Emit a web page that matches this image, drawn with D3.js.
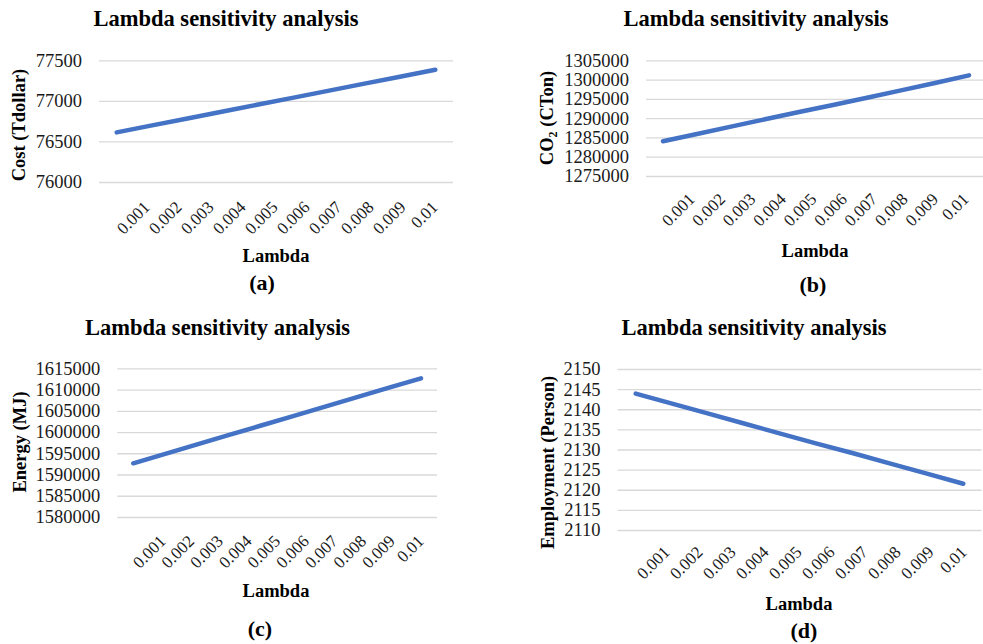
<!DOCTYPE html>
<html>
<head>
<meta charset="utf-8">
<script src="https://cdn.jsdelivr.net/npm/d3@7/dist/d3.min.js"></script>
<style>
  html, body { margin: 0; padding: 0; background: #fff; }
  svg { display: block; font-family: "Liberation Serif", "Times New Roman", serif; }
</style>
</head>
<body>
<svg id="chart" width="983" height="644"></svg>
<script>
// ---------- data ----------
const lambdas = ["0.001", "0.002", "0.003", "0.004", "0.005", "0.006", "0.007", "0.008", "0.009", "0.01"];

const cost = [76612, 76698, 76783, 76869, 76955, 77040, 77126, 77212, 77297, 77383];
const co2 = [1284000, 1285900, 1287800, 1289700, 1291600, 1293400, 1295300, 1297200, 1299100, 1301100];
const energy = [1592640, 1594860, 1597090, 1599310, 1601530, 1603760, 1605980, 1608200, 1610430, 1612650];
const employment = [2143.9, 2141.4, 2138.9, 2136.4, 2133.9, 2131.4, 2129.0, 2126.5, 2124.0, 2121.5];

const costTicks = [76000, 76500, 77000, 77500];
const co2Ticks = [1275000, 1280000, 1285000, 1290000, 1295000, 1300000, 1305000];
const energyTicks = [1580000, 1585000, 1590000, 1595000, 1600000, 1605000, 1610000, 1615000];
const employmentTicks = [2110, 2115, 2120, 2125, 2130, 2135, 2140, 2145, 2150];

const chartTitle = "Lambda sensitivity analysis";
const xTitle = "Lambda";

// ---------- layout ----------
const panels = [
  { values: cost, ticks: costTicks, yTitle: ["Cost (Tdollar)"], tag: "(a)",
    left: 99, right: 453, top: 60.3, bottom: 182,
    lblFirst: 146, lblLast: 434, lblY: 204,
    titleX: 226, titleY: 26, yTitleX: 25, yTitleY: 125,
    xTitleX: 276, xTitleY: 262, tagX: 262, tagY: 290 },
  { values: co2, ticks: co2Ticks, yTitle: ["CO", "2", " (CTon)"], tag: "(b)",
    left: 646, right: 986, top: 60.3, bottom: 176,
    lblFirst: 691, lblLast: 965, lblY: 196,
    titleX: 756, titleY: 26, yTitleX: 553, yTitleY: 118,
    xTitleX: 815, xTitleY: 257, tagX: 813, tagY: 292 },
  { values: energy, ticks: energyTicks, yTitle: ["Energy (MJ)"], tag: "(c)",
    left: 117.3, right: 437, top: 368.3, bottom: 517,
    lblFirst: 162, lblLast: 420, lblY: 538,
    titleX: 217.5, titleY: 335, yTitleX: 26, yTitleY: 442,
    xTitleX: 276, xTitleY: 597, tagX: 260, tagY: 636 },
  { values: employment, ticks: employmentTicks, yTitle: ["Employment (Person)"], tag: "(d)",
    left: 617.5, right: 981.5, top: 369, bottom: 530,
    lblFirst: 666, lblLast: 963, lblY: 549,
    titleX: 754, titleY: 335, yTitleX: 554, yTitleY: 462.5,
    xTitleX: 799, xTitleY: 610, tagX: 804, tagY: 638 }
];

const FONT = "Liberation Serif, Times New Roman, serif";
const svg = d3.select("#chart");

panels.forEach(p => {
  const g = svg.append("g");

  const x = d3.scaleBand().domain(lambdas).range([p.left, p.right]);
  const xLbl = d3.scalePoint().domain(lambdas).range([p.lblFirst, p.lblLast]);
  const y = d3.scaleLinear().domain(d3.extent(p.ticks)).range([p.bottom, p.top]);

  // gridlines + y labels
  const yAxis = g.append("g")
    .attr("transform", `translate(${p.left},0)`)
    .call(d3.axisLeft(y).tickValues(p.ticks).tickSize(-(p.right - p.left)).tickPadding(17).tickFormat(d3.format("d")));
  yAxis.attr("font-family", FONT);
  yAxis.select(".domain").remove();
  yAxis.selectAll(".tick line").attr("stroke", "#d9d9d9").attr("stroke-width", 1.3);
  yAxis.selectAll(".tick text").attr("fill", "#1a1a1a").attr("font-size", 18.5)
    .attr("font-family", FONT);

  // x labels
  const xAxis = g.append("g")
    .attr("transform", `translate(0,${p.lblY})`)
    .call(d3.axisBottom(xLbl).tickSize(0).tickPadding(0));
  xAxis.attr("font-family", FONT);
  xAxis.select(".domain").remove();
  xAxis.selectAll(".tick text")
    .attr("fill", "#1a1a1a").attr("font-size", 17)
    .attr("font-family", FONT)
    .attr("text-anchor", "end")
    .attr("x", 0).attr("y", 0).attr("dy", "0.35em")
    .attr("transform", "rotate(-45)");

  // line
  const line = d3.line()
    .x((d, i) => x(lambdas[i]) + x.bandwidth() / 2)
    .y(d => y(d));
  g.append("path")
    .datum(p.values)
    .attr("d", line)
    .attr("fill", "none")
    .attr("stroke", "#4472C4")
    .attr("stroke-width", 4.5)
    .attr("stroke-linecap", "round")
    .attr("stroke-linejoin", "round");

  // title
  g.append("text")
    .attr("x", p.titleX).attr("y", p.titleY)
    .attr("text-anchor", "middle")
    .attr("font-size", 22.5).attr("font-weight", "bold")
    .text(chartTitle);

  // y title
  const yt = g.append("text")
    .attr("transform", `translate(${p.yTitleX},${p.yTitleY}) rotate(-90)`)
    .attr("text-anchor", "middle")
    .attr("font-size", 18.5).attr("font-weight", "bold");
  if (p.yTitle.length === 1) {
    yt.text(p.yTitle[0]);
  } else {
    yt.append("tspan").text(p.yTitle[0]);
    yt.append("tspan").attr("font-size", 12).attr("dy", 4).text(p.yTitle[1]);
    yt.append("tspan").attr("dy", -4).text(p.yTitle[2]);
  }

  // x title
  g.append("text")
    .attr("x", p.xTitleX).attr("y", p.xTitleY)
    .attr("text-anchor", "middle")
    .attr("font-size", 18.5).attr("font-weight", "bold")
    .text(xTitle);

  // panel tag
  g.append("text")
    .attr("x", p.tagX).attr("y", p.tagY)
    .attr("text-anchor", "middle")
    .attr("font-size", 22).attr("font-weight", "bold")
    .text(p.tag);
});
</script>
</body>
</html>
